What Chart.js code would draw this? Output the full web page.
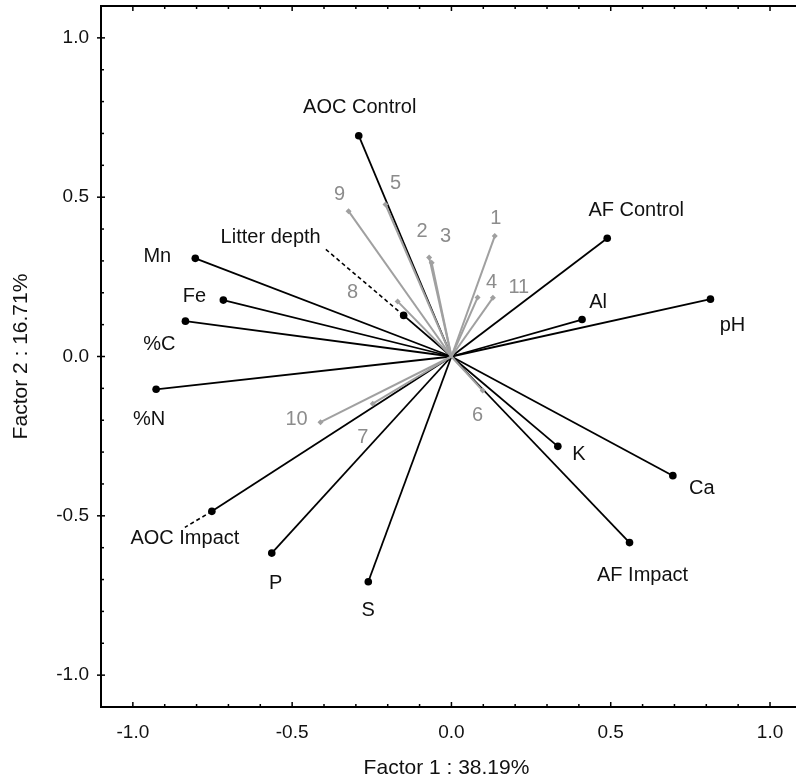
<!DOCTYPE html>
<html>
<head>
<meta charset="utf-8">
<script src="https://cdn.jsdelivr.net/npm/chart.js@4/dist/chart.umd.min.js"></script>
<style>
  html, body { margin: 0; padding: 0; background: #fff; }
  #wrap { width: 796px; height: 783px; }
</style>
</head>
<body>
<div id="wrap"><canvas id="c" width="796" height="783"></canvas></div>
<script>
// ---- data: variable loadings (black vectors) ----
const varNames = ['AOC Control','Litter depth','AF Control','Al','pH','K','Ca','AF Impact','Mn','Fe','%C','%N','AOC Impact','P','S'];
const varF1 = [-0.291,-0.150, 0.489, 0.410, 0.813, 0.334, 0.695, 0.559,-0.804,-0.716,-0.835,-0.927,-0.752,-0.564,-0.261];
const varF2 = [ 0.693, 0.129, 0.371, 0.116, 0.180,-0.282,-0.374,-0.584, 0.308, 0.177, 0.111,-0.103,-0.486,-0.617,-0.707];

// ---- data: sample vectors (grey) ----
const sampleNames = ['1','2','3','4','5','6','7','8','9','10','11'];
const sampleF1 = [ 0.136,-0.070,-0.062, 0.082,-0.207, 0.098,-0.247,-0.169,-0.323,-0.411, 0.130];
const sampleF2 = [ 0.378, 0.311, 0.294, 0.185, 0.477,-0.107,-0.148, 0.173, 0.456,-0.206, 0.184];

// ---- axis ----
const tickValues = [-1.0, -0.5, 0.0, 0.5, 1.0];
const xTitle = 'Factor 1 : 38.19%';
const yTitle = 'Factor 2 : 16.71%';

// ---- layout: label offsets (pixels from the vector tip) ----
const varLabelOffsets = [[1,-28],[-133,-78],[29,-28],[16,-17],[22,26],[21,8],[29,13],[13,33],[-38,-2],[-29,-4],[-26,23],[-7,30],[-27,27],[4,30],[0,29]];
const sampleLabelOffsets = [[1,-18],[-7,-26],[14,-26],[14,-15],[10,-21],[-5,25],[-10,34],[-45,-9],[-9,-17],[-24,-3],[26,-10]];
// dashed leader lines (pixel offsets from tip) for some variables
const leaders = { 'Litter depth': [-79,-67], 'AOC Impact': [-27,16] };

const FONT = '"Liberation Sans", Arial, Helvetica, sans-serif';
const BLACK = '#000000';
const GREY = '#a0a0a0';
const GREY_TEXT = '#8c8c8c';

const datasets = [];
sampleNames.forEach((n, i) => {
  datasets.push({
    label: n, order: 0,
    data: [{x:0,y:0},{x:sampleF1[i], y:sampleF2[i]}],
    showLine: true, borderColor: GREY, borderWidth: 2,
    pointRadius: [0, 3], pointStyle: 'rectRot',
    pointBackgroundColor: GREY, pointBorderColor: GREY, pointBorderWidth: 0
  });
});
varNames.forEach((n, i) => {
  datasets.push({
    label: n, order: 1,
    data: [{x:0,y:0},{x:varF1[i], y:varF2[i]}],
    showLine: true, borderColor: BLACK, borderWidth: 1.8,
    pointRadius: [0, 3.8], pointStyle: 'circle',
    pointBackgroundColor: BLACK, pointBorderColor: BLACK, pointBorderWidth: 0
  });
});

const decorPlugin = {
  id: 'decor',
  beforeDatasetsDraw(chart) {
    const ctx = chart.ctx;
    const xs = chart.scales.x, ys = chart.scales.y;
    const ca = chart.chartArea;
    ctx.save();
    ctx.strokeStyle = BLACK;
    ctx.lineWidth = 2;
    ctx.beginPath();
    ctx.moveTo(ca.left, ca.top);
    ctx.lineTo(chart.width, ca.top);
    ctx.moveTo(ca.left, ca.bottom);
    ctx.lineTo(chart.width, ca.bottom);
    ctx.stroke();
    ctx.lineWidth = 1.5;
    for (let k = -11; k <= 10; k++) {
      const v = k / 10;
      const px = xs.getPixelForValue(v);
      if (px < ca.left + 1 || px > chart.width) continue;
      const major = (k % 5 === 0);
      const len = major ? 5 : 3;
      ctx.beginPath();
      ctx.moveTo(px, ca.bottom); ctx.lineTo(px, ca.bottom - len);
      ctx.moveTo(px, ca.top); ctx.lineTo(px, ca.top + len);
      ctx.stroke();
    }
    for (let k = -10; k <= 10; k++) {
      const v = k / 10;
      const py = ys.getPixelForValue(v);
      const major = (k % 5 === 0);
      ctx.beginPath();
      if (major) { ctx.moveTo(ca.left - 4, py); ctx.lineTo(ca.left + 4, py); }
      else { ctx.moveTo(ca.left, py); ctx.lineTo(ca.left + 3, py); }
      ctx.stroke();
    }
    ctx.restore();
  },
  afterDatasetsDraw(chart) {
    const ctx = chart.ctx;
    const xs = chart.scales.x, ys = chart.scales.y;
    ctx.save();
    ctx.strokeStyle = BLACK;
    ctx.lineWidth = 1.6;
    ctx.setLineDash([4, 3]);
    varNames.forEach((n, i) => {
      if (!leaders[n]) return;
      const px = xs.getPixelForValue(varF1[i]), py = ys.getPixelForValue(varF2[i]);
      ctx.beginPath();
      ctx.moveTo(px, py);
      ctx.lineTo(px + leaders[n][0], py + leaders[n][1]);
      ctx.stroke();
    });
    ctx.setLineDash([]);
    ctx.textAlign = 'center';
    ctx.textBaseline = 'middle';
    ctx.font = '20px ' + FONT;
    ctx.fillStyle = '#111';
    varNames.forEach((n, i) => {
      const px = xs.getPixelForValue(varF1[i]), py = ys.getPixelForValue(varF2[i]);
      ctx.fillText(n, px + varLabelOffsets[i][0], py + varLabelOffsets[i][1]);
    });
    ctx.fillStyle = GREY_TEXT;
    sampleNames.forEach((n, i) => {
      const px = xs.getPixelForValue(sampleF1[i]), py = ys.getPixelForValue(sampleF2[i]);
      ctx.fillText(n, px + sampleLabelOffsets[i][0], py + sampleLabelOffsets[i][1]);
    });
    ctx.restore();
  }
};

new Chart(document.getElementById('c'), {
  type: 'scatter',
  data: { datasets },
  options: {
    responsive: false,
    animation: false,
    devicePixelRatio: 1,
    layout: { padding: { left: 0, right: 0, top: 6, bottom: 0 } },
    plugins: { legend: { display: false }, tooltip: { enabled: false } },
    scales: {
      x: {
        type: 'linear', min: -1.1, max: 1.069,
        afterFit(s) { s.height = 76; s.paddingLeft = 0; s.paddingRight = 0; },
        afterBuildTicks(s) { s.ticks = tickValues.map(v => ({ value: v })); },
        grid: { display: false, drawTicks: false },
        border: { display: true, color: BLACK, width: 2 },
        ticks: { padding: 14, color: '#111', font: { family: FONT, size: 19 }, callback: v => Number(v).toFixed(1), maxRotation: 0 },
        title: { display: true, text: xTitle, color: '#111', font: { family: FONT, size: 21 }, padding: { top: 2, bottom: 2 } }
      },
      y: {
        type: 'linear', min: -1.1, max: 1.1,
        afterFit(s) { s.width = 101; s.paddingTop = 0; s.paddingBottom = 0; },
        afterBuildTicks(s) { s.ticks = tickValues.map(v => ({ value: v })); },
        grid: { display: false, drawTicks: false },
        border: { display: true, color: BLACK, width: 2 },
        ticks: { padding: 12, color: '#111', font: { family: FONT, size: 19 }, callback: v => Number(v).toFixed(1) },
        title: { display: true, text: yTitle, color: '#111', font: { family: FONT, size: 21 }, padding: { top: 9, bottom: 0 } }
      }
    }
  },
  plugins: [decorPlugin]
});
</script>
</body>
</html>
